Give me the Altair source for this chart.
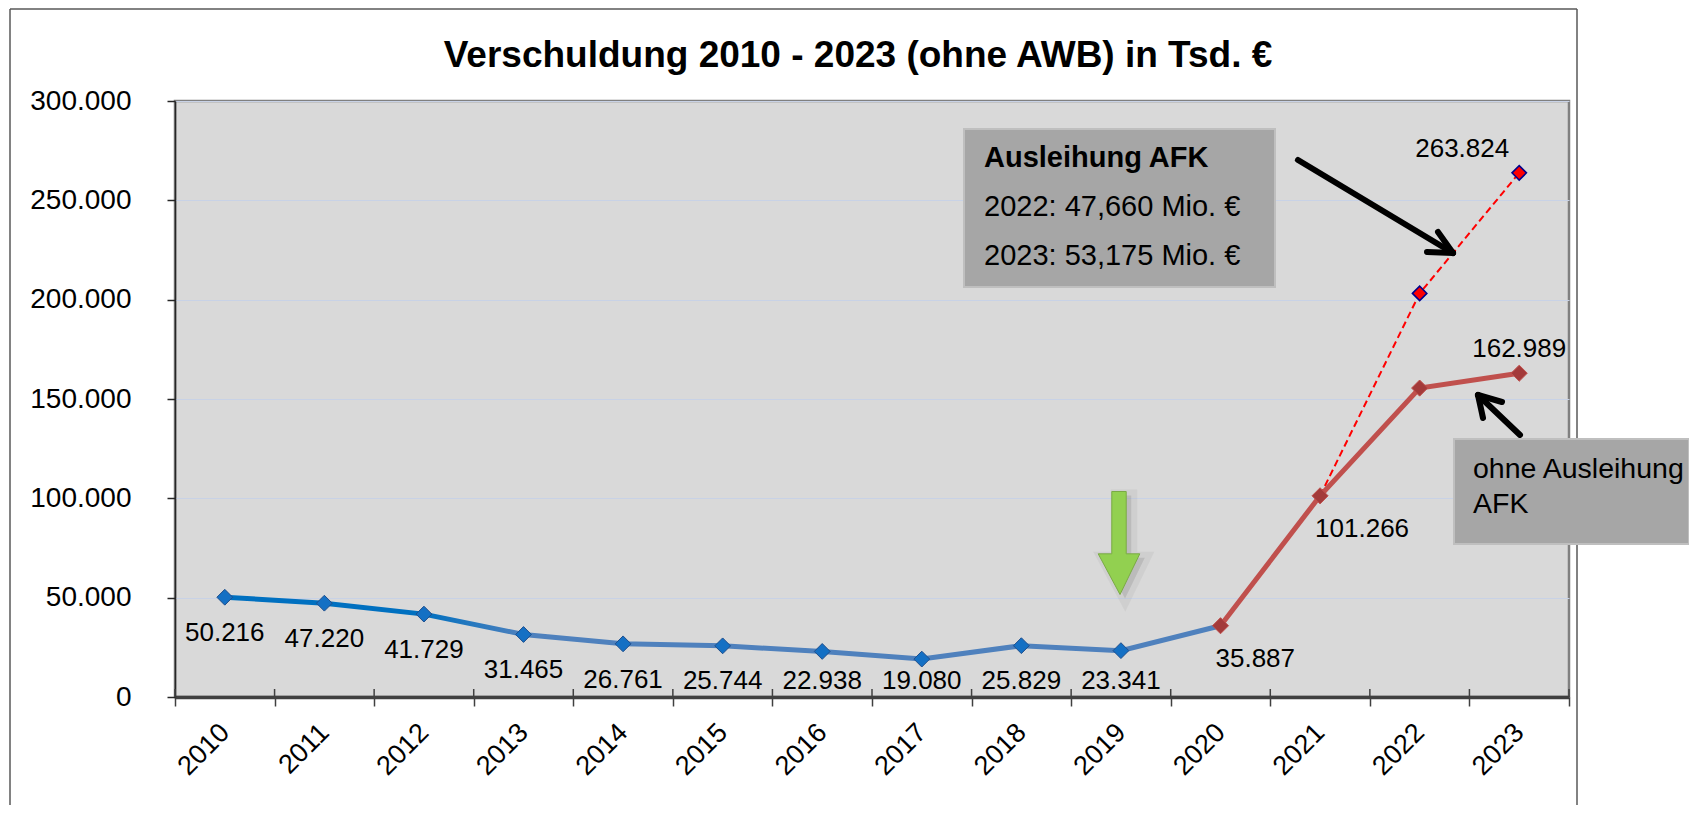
import altair as alt
import pandas as pd

# ---------------- data ----------------
years = [str(y) for y in range(2010, 2024)]
schulden_ohne_afk = [50216, 47220, 41729, 31465, 26761, 25744, 22938,
                     19080, 25829, 23341, 35887, 101266, 155500, 162989]
jahre_mit_afk = ["2021", "2022", "2023"]
schulden_mit_afk = [101266, 203160, 263824]
y_ticks = [0, 50000, 100000, 150000, 200000, 250000, 300000]

title_text = "Verschuldung 2010 - 2023 (ohne AWB) in Tsd. €"
box1_lines = ["Ausleihung AFK", "2022: 47,660 Mio. €", "2023: 53,175 Mio. €"]
box2_lines = ["ohne Ausleihung", "AFK"]


def de(v):
    return f"{v:,}".replace(",", ".")


df = pd.DataFrame({"jahr": years, "wert": schulden_ohne_afk,
                   "label": [de(v) for v in schulden_ohne_afk]})
blue = df[df.jahr <= "2020"]
blue_lab = df[df.jahr <= "2019"]
red = df[df.jahr >= "2020"]
red_lab_below = df[df.jahr.isin(["2020", "2021"])]
red_lab_above = df[df.jahr == "2023"]
dashed = pd.DataFrame({"jahr": jahre_mit_afk, "wert": schulden_mit_afk,
                       "label": [de(v) for v in schulden_mit_afk]})
dashed_pts = dashed[dashed.jahr != "2021"]
dashed_lab = dashed[dashed.jahr == "2023"]
one = pd.DataFrame({"a": [0]})

W, H = 1394, 596
FONT = "Liberation Sans"

x_axis = alt.Axis(title=None, labelAngle=-45, labelAlign="right",
                  labelBaseline="middle", labelFontSize=27, labelColor="black",
                  tickSize=9, tickBand="extent", tickColor="#404040",
                  tickWidth=1.5, domainColor="#404040", domainWidth=3.5,
                  labelPadding=22, grid=False)
y_axis = alt.Axis(title=None, values=y_ticks,
                  labelExpr="replace(format(datum.value, ','), ',', '.')",
                  labelFontSize=28, labelColor="black", labelPadding=36,
                  tickSize=8, tickColor="#262626", tickWidth=1.5,
                  domainColor="#262626", domainWidth=1.5,
                  grid=True, gridColor="#c8d2e6", gridWidth=1)

x_scale = alt.Scale(type="band", domain=years, paddingInner=0, paddingOuter=0)
y_scale = alt.Scale(domain=[0, 300000], nice=False, zero=True)


def X():
    return alt.X("jahr:O", scale=x_scale, axis=x_axis)


def Y(field="wert:Q"):
    return alt.Y(field, scale=y_scale, axis=y_axis)


def rule(x1, y1, x2, y2, color="black", width=6, cap="round"):
    return alt.Chart(one).mark_rule(color=color, strokeWidth=width,
                                    strokeCap=cap).encode(
        x=alt.value(x1), y=alt.value(y1), x2=alt.value(x2), y2=alt.value(y2))


def rect(x1, y1, x2, y2, **kw):
    return alt.Chart(one).mark_rect(**kw).encode(
        x=alt.value(x1), y=alt.value(y1), x2=alt.value(x2), y2=alt.value(y2))


def text(t, x, y, align="left", **kw):
    return alt.Chart(pd.DataFrame({"t": [t]})).mark_text(
        align=align, baseline="alphabetic", color="black", **kw).encode(
        text="t:N", x=alt.value(x), y=alt.value(y))


# ---------------- decorations ----------------
frame = [rule(-165, -92, -165, 704, color="#595959", width=1.5, cap="butt"),
         rule(-165, -92, 1402, -92, color="#595959", width=1.5, cap="butt"),
         rule(1402, -92, 1402, 704, color="#595959", width=1.5, cap="butt")]
title = text(title_text, 683, -34, align="center", fontSize=37,
             fontWeight="bold")

inner_ticks = alt.Chart(pd.DataFrame({"jahr": years})).mark_rule(
    color="#404040", strokeWidth=1.5).encode(
    x=alt.X("jahr:O", scale=x_scale, axis=x_axis, bandPosition=0),
    y=alt.value(H - 8), y2=alt.value(H))
inner_tick_end = rule(W, H - 8, W, H, color="#404040", width=1.5, cap="butt")

box1 = rect(789, 28, 1100, 186, fill="#a6a6a6", stroke="#bfbfbf",
            strokeWidth=2)
box1_t0 = text(box1_lines[0], 809, 66, fontSize=29, fontWeight="bold")
box1_t1 = text(box1_lines[1], 809, 115, fontSize=29)
box1_t2 = text(box1_lines[2], 809, 164, fontSize=29)

box2 = rect(1279, 338, 1514, 443, fill="#a6a6a6", stroke="#bfbfbf",
            strokeWidth=2)
box2_t0 = text(box2_lines[0], 1298, 377, fontSize=28.5)
box2_t1 = text(box2_lines[1], 1298, 412, fontSize=28.5)

arrow_path = ("M-0.14,-1 L0.14,-1 L0.14,0.21 L0.404,0.21 L0.02,1 "
              "L-0.404,0.21 L-0.14,0.21 Z")
green_shadow = alt.Chart(one).mark_point(
    shape=arrow_path, size=10609, filled=True, fill="#7f7f7f",
    fillOpacity=0.25, stroke="#7f7f7f", strokeOpacity=0.1,
    strokeWidth=12).encode(x=alt.value(949), y=alt.value(446))
green_arrow = alt.Chart(one).mark_point(
    shape=arrow_path, size=10609, filled=True, fill="#92d050",
    stroke="#7aaa45", strokeWidth=1, opacity=1).encode(
    x=alt.value(944), y=alt.value(442))

arrow1 = [rule(1123, 59, 1278, 152), rule(1278, 152, 1252, 151),
          rule(1278, 152, 1263, 131)]
arrow2 = [rule(1345, 334, 1303, 294), rule(1303, 294, 1308, 317),
          rule(1303, 294, 1327, 301)]

# ---------------- data marks ----------------
blue_grad = alt.Gradient(
    gradient="linear", x1=0, x2=1, y1=0, y2=0,
    stops=[alt.GradientStop(color="#0070c0", offset=0),
           alt.GradientStop(color="#0070c0", offset=0.2),
           alt.GradientStop(color="#4f81bd", offset=0.3),
           alt.GradientStop(color="#4f81bd", offset=1)])

blue_line = alt.Chart(blue).mark_line(stroke=blue_grad, strokeWidth=5).encode(
    x=X(), y=Y())
red_dashed = alt.Chart(dashed).mark_line(
    color="#ff0000", strokeWidth=2, strokeDash=[7, 4]).encode(x=X(), y=Y())
red_line = alt.Chart(red).mark_line(color="#c0504d", strokeWidth=5).encode(
    x=X(), y=Y())

blue_pts = alt.Chart(blue[blue.jahr < "2020"]).mark_point(
    shape="diamond", filled=True, size=250, fill="#1470c4", stroke="#1f4e8c",
    strokeWidth=1, opacity=1).encode(x=X(), y=Y())
red_pts = alt.Chart(red).mark_point(
    shape="diamond", filled=True, size=260, fill="#a33a3a", stroke="#c0504d",
    strokeWidth=1, opacity=1).encode(x=X(), y=Y())
dashed_points = alt.Chart(dashed_pts).mark_point(
    shape="diamond", filled=True, size=210, fill="#ff0000", stroke="#00008b",
    strokeWidth=1.5, opacity=1).encode(x=X(), y=Y())

blue_labels = alt.Chart(blue_lab).transform_calculate(
    lab_y="max(datum.wert - 18000, 8000)").mark_text(
    fontSize=26, baseline="middle", align="center", color="black").encode(
    x=X(), y=Y("lab_y:Q"), text="label:N")
red_labels_below = alt.Chart(red_lab_below).mark_text(
    fontSize=26, baseline="middle", align="left", dx=-5, dy=33,
    color="black").encode(x=X(), y=Y(), text="label:N")
red_labels_above = alt.Chart(red_lab_above).mark_text(
    fontSize=26, baseline="middle", align="center", dy=-24,
    color="black").encode(x=X(), y=Y(), text="label:N")
dashed_labels = alt.Chart(dashed_lab).mark_text(
    fontSize=26, baseline="middle", align="center", dx=-57, dy=-24,
    color="black").encode(x=X(), y=Y(), text="label:N")

chart = alt.layer(
    *frame, title, inner_ticks, inner_tick_end,
    box1, box1_t0, box1_t1, box1_t2,
    green_shadow, green_arrow,
    blue_line, red_dashed, red_line,
    blue_pts, red_pts, dashed_points,
    blue_labels, red_labels_below, red_labels_above, dashed_labels,
    *arrow1, *arrow2,
    box2, box2_t0, box2_t1,
).properties(
    width=W, height=H,
    autosize=alt.AutoSizeParams(type="none"),
    padding={"left": 167, "top": 93, "right": 120, "bottom": 112},
    background="white",
).configure(font=FONT).configure_view(
    fill="#d9d9d9", stroke="#808080", strokeWidth=2.5)

chart.save("out.html", embed_options={"renderer": "svg", "actions": False})
